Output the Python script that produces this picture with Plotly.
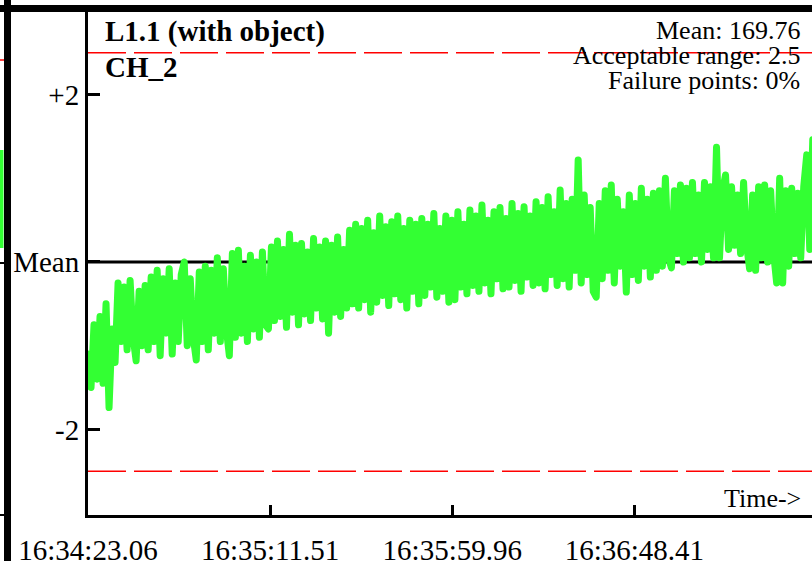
import plotly.graph_objects as go

# ---------------- data ----------------
tick_times = [0.0, 48.45, 96.90, 145.35]
tick_labels = ["16:34:23.06", "16:35:11.51", "16:35:59.96", "16:36:48.41"]
y_tick_vals = [-2, 0, 2]
y_tick_text = ["-2", "Mean", "+2"]
limit_upper = 2.5
limit_lower = -2.5
sample_dt = 0.8  # seconds between samples

deviation = [
    -1.10, -1.50, -0.75, -1.40, -0.65, -1.45, -0.50, -1.74, -0.80, -1.20,
    -0.25, -0.95, -0.30, -1.05, -0.22, -0.90, -1.18, -0.35, -1.00, -0.28,
    -1.05, -0.18, -0.95, -0.10, -1.12, -0.20, -0.85, -0.08, -1.10, -0.25,
    -0.95, -0.15, 0.00, -1.00, -0.20, -0.90, -1.17, -0.12, -0.95, -0.05,
    -1.05, -0.10, -0.85, 0.05, -0.95, -0.08, -0.80, -1.12, 0.10, -0.90,
    0.14, -0.85, -0.05, -0.95, 0.08, -0.80, 0.00, -0.90, 0.12, -0.75,
    -0.80, 0.18, -0.70, 0.25, -0.65, 0.15, -0.78, 0.33, -0.60, 0.20,
    -0.75, 0.22, -0.62, 0.12, -0.70, 0.28, -0.55, 0.18, -0.68, 0.25,
    -0.85, 0.20, -0.60, 0.30, -0.65, 0.15, -0.55, 0.38, -0.50, 0.45,
    -0.55, 0.40, -0.45, 0.50, -0.60, 0.35, -0.48, 0.55, -0.40, 0.42,
    -0.52, 0.48, -0.38, 0.55, -0.45, 0.40, -0.55, 0.50, -0.35, 0.45,
    -0.50, 0.52, -0.40, 0.45, -0.30, 0.58, -0.42, 0.40, -0.35, 0.55,
    -0.48, 0.50, -0.45, 0.60, -0.30, 0.45, -0.38, 0.62, -0.28, 0.55,
    -0.35, 0.68, -0.25, 0.50, -0.38, 0.60, -0.20, 0.65, -0.32, 0.52,
    -0.30, 0.70, -0.22, 0.58, -0.35, 0.66, -0.18, 0.55, -0.28, 0.72,
    -0.25, 0.65, -0.32, 0.78, -0.15, 0.60, -0.28, 0.86, -0.20, 0.70,
    -0.30, 0.75, -0.10, 1.22, -0.25, 0.80, -0.15, 0.65, -0.35, -0.42,
    0.70, -0.20, 0.85, -0.10, 0.92, -0.25, 0.75, -0.05, 0.60, -0.36,
    0.80, -0.15, 0.70, -0.22, 0.88, -0.05, 0.75, -0.18, 0.82, -0.10,
    0.85, -0.05, 1.00, 0.05, -0.07, 0.85, 0.10, 0.92, 0.00, 0.88,
    0.05, 0.95, 0.10, 0.80, 0.00, 0.95, 0.15, 0.90, 0.05, 1.37,
    0.05, 0.85, 1.04, 0.15, 0.90, 0.20, 0.80, 0.10, 0.95, 0.20,
    -0.08, 0.80, -0.10, 0.90, 0.05, 0.92, 0.00, 0.85, 0.10, -0.25,
    1.00, -0.25, 0.85, -0.05, 0.88, 0.10, 0.82, 0.05, 0.90, 1.28,
    0.15, 1.46,
]
times = [i * sample_dt for i in range(len(deviation))]

stats_lines = ["Mean: 169.76", "Acceptable range: 2.5", "Failure points: 0%"]
title_lines = ["L1.1 (with object)", "CH_2"]

# ---------------- layout helpers ----------------
W, H = 812, 561
L, R, T, B = 88, 0, 12, 46
PW, PH = W - L - R, H - T - B

def px_x(px):
    return (px - L) / PW

def px_y(py):
    return (H - B - py) / PH

FONT = "Liberation Serif, Times New Roman, serif"

fig = go.Figure()
fig.add_trace(go.Scatter(
    x=times, y=deviation, mode="lines",
    line=dict(color="#33FF33", width=7),
    showlegend=False, hoverinfo="skip",
))

shapes = []
# mean line
shapes.append(dict(type="line", xref="paper", yref="y", x0=0, x1=1, y0=0, y1=0,
                   line=dict(color="black", width=3), layer="below"))
# limits
for lim in (limit_upper, limit_lower):
    shapes.append(dict(type="line", xref="paper", yref="y", x0=0, x1=1, y0=lim, y1=lim,
                       line=dict(color="#FF0000", width=1.5, dash="38px,8px"), layer="above"))
# thick frame lines
shapes.append(dict(type="rect", xref="paper", yref="paper",
                   x0=px_x(0), x1=px_x(W), y0=px_y(12), y1=px_y(5),
                   fillcolor="black", line=dict(width=0)))
shapes.append(dict(type="rect", xref="paper", yref="paper",
                   x0=px_x(4), x1=px_x(11), y0=px_y(H), y1=px_y(0),
                   fillcolor="black", line=dict(width=0)))
# fragments of the neighbouring panel at the far left
shapes.append(dict(type="line", xref="paper", yref="paper",
                   x0=px_x(0), x1=px_x(4), y0=px_y(60), y1=px_y(60),
                   line=dict(color="#FF0000", width=1.5)))
shapes.append(dict(type="rect", xref="paper", yref="paper",
                   x0=px_x(0), x1=px_x(3.5), y0=px_y(248), y1=px_y(150),
                   fillcolor="#33FF33", line=dict(width=0)))
for py in (263, 515):
    shapes.append(dict(type="line", xref="paper", yref="paper",
                       x0=px_x(0), x1=px_x(4), y0=px_y(py), y1=px_y(py),
                       line=dict(color="black", width=2)))

annotations = []
for k, txt in enumerate(title_lines):
    annotations.append(dict(text="<b>" + txt + "</b>", xref="paper", yref="paper",
                            x=px_x(103), y=px_y(32 + 35 * k), xanchor="left", yanchor="middle",
                            showarrow=False, font=dict(family=FONT, size=29, color="black")))
for k, txt in enumerate(stats_lines):
    annotations.append(dict(text=txt, xref="paper", yref="paper",
                            x=px_x(802), y=px_y(30 + 25.5 * k), xanchor="right", yanchor="middle",
                            showarrow=False, font=dict(family=FONT, size=26, color="black")))
annotations.append(dict(text="Time->", xref="paper", yref="paper",
                        x=px_x(803), y=px_y(498), xanchor="right", yanchor="middle",
                        showarrow=False, font=dict(family=FONT, size=26, color="black")))

fig.update_layout(
    width=W, height=H,
    margin=dict(l=L, r=R, t=T, b=B, pad=0, autoexpand=False),
    paper_bgcolor="white", plot_bgcolor="white",
    font=dict(family=FONT, size=29, color="black"),
    shapes=shapes, annotations=annotations,
    xaxis=dict(range=[0, 192.6], tickvals=tick_times, ticktext=tick_labels,
               ticks="inside", ticklen=10, tickwidth=3, tickcolor="black",
               showline=True, linewidth=3, linecolor="black", automargin=False,
               showgrid=False, zeroline=False, ticklabelstandoff=7,
               tickfont=dict(family=FONT, size=29, color="black")),
    yaxis=dict(range=[-3.023, 2.987], tickvals=y_tick_vals, ticktext=y_tick_text,
               ticks="inside", ticklen=12, tickwidth=3, tickcolor="black",
               showline=True, linewidth=3, linecolor="black", automargin=False,
               showgrid=False, zeroline=False,
               tickfont=dict(family=FONT, size=29, color="black")),
)

post_js = (
    "document.body.style.margin='0';"
    "document.body.style.overflow='hidden';"
    "var s=document.createElement('style');"
    "s.innerHTML='.scatterlayer .js-line{stroke-linejoin:round;stroke-linecap:round;}';"
    "document.head.appendChild(s);"
)
fig.write_html("out.html", post_script=post_js, config={"displayModeBar": False})
